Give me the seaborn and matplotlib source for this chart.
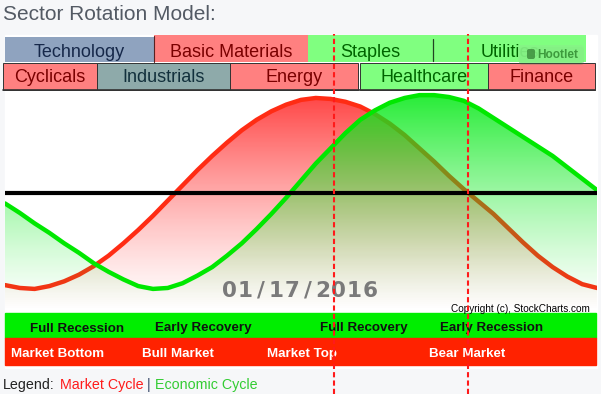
import numpy as np
import matplotlib.pyplot as plt
import seaborn as sns
from matplotlib.patches import Rectangle, FancyBboxPatch

sns.set_style("white")
plt.rcParams['font.family'] = ['Liberation Sans', 'DejaVu Sans']

# position through the cycle (0 = left edge of the panel, 100 = right edge)
cycle_pos = np.arange(0, 100.1, 2.5)
market_cycle = [-0.97, -1.0, -1.01, -0.98, -0.93, -0.86, -0.77, -0.66, -0.53, -0.39,
                -0.24, -0.08, 0.08, 0.24, 0.39, 0.53, 0.66, 0.77, 0.86, 0.93,
                0.98, 1.0, 0.99, 0.96, 0.91, 0.83, 0.73, 0.61, 0.47, 0.33,
                0.18, 0.04, -0.09, -0.22, -0.37, -0.52, -0.66, -0.78, -0.88, -0.96, -1.0]
economic_cycle = [-0.11, -0.21, -0.32, -0.42, -0.53, -0.63, -0.74, -0.83, -0.91, -0.98,
                  -1.01, -1.0, -0.95, -0.87, -0.78, -0.66, -0.53, -0.38, -0.22, -0.05,
                  0.13, 0.31, 0.47, 0.63, 0.77, 0.87, 0.95, 1.0, 1.03, 1.03,
                  1.01, 0.97, 0.89, 0.79, 0.69, 0.59, 0.49, 0.39, 0.27, 0.15, 0.03]
marker_pos = [55.6, 78.2]
date_label = "01/17/2016"

top_sectors = ["Technology", "Basic Materials", "Staples", "Utilities"]
bottom_sectors = ["Cyclicals", "Industrials", "Energy", "Healthcare", "Finance"]
economy_phases = ["Full Recession", "Early Recovery", "Full Recovery", "Early Recession"]
market_phases = ["Market Bottom", "Bull Market", "Market Top", "Bear Market"]

# layout in pixels
top_edges = [(5, 154), (154, 308), (308, 433), (433, 586)]
bottom_edges = [(3, 97), (97, 230), (230, 358), (360, 488), (488, 595)]
economy_x = [30, 155, 320, 440]
market_x = [11, 142, 267, 429]

RED_BOX, GREEN_BOX = '#ff8080', '#80ff80'
top_fill = ['#8fa3bf', RED_BOX, GREEN_BOX, GREEN_BOX]
top_text = ['#16284a', '#7a0000', '#006400', '#006400']
bottom_fill = [RED_BOX, '#8eaaaa', RED_BOX, GREEN_BOX, RED_BOX]
bottom_text = ['#7a0000', '#12303c', '#7a0000', '#006400', '#7a0000']

YBOT, YTOP = -1.253, 1.084

fig = plt.figure(figsize=(6.01, 3.94), dpi=100, facecolor='#f6f7f9')
ax = fig.add_axes([0, 0, 1, 1])
ax.set_xlim(0, 601)
ax.set_ylim(394, 0)
ax.axis('off')

ax.text(3, 20, "Sector Rotation Model:", fontsize=15, color='#535a64', va='baseline')
ax.add_patch(Rectangle((5, 35), 592, 333, color='white', zorder=0))

for (x0, x1), name, fc, tc in zip(top_edges, top_sectors, top_fill, top_text):
    y0 = 37 if name == "Technology" else 35
    ax.add_patch(Rectangle((x0, y0), x1 - x0, 62 - y0, facecolor=fc, edgecolor='none', zorder=1))
    ax.text((x0 + x1) / 2, 56.5, name, fontsize=13, color=tc, ha='center', va='baseline', zorder=2)
ax.plot([154, 154], [36, 62], color='#5a2020', lw=0.8, zorder=2)
ax.plot([433, 433], [39, 61], color='#224422', lw=0.9, zorder=2)

for (x0, x1), name, fc, tc in zip(bottom_edges, bottom_sectors, bottom_fill, bottom_text):
    ax.add_patch(Rectangle((x0, 62.5), x1 - x0, 27.5, facecolor=fc, edgecolor='#333333', lw=0.7, zorder=1))
    ax.text((x0 + x1) / 2, 82, name, fontsize=13, color=tc, ha='center', va='baseline', zorder=2)
ax.plot([3, 595], [90, 90], color='#333333', lw=1.2, zorder=2)

# Hootlet watermark
ax.add_patch(FancyBboxPatch((519, 47), 65, 18, boxstyle='round,pad=0,rounding_size=3',
                            fc='#4f7f4f', ec='none', alpha=0.25, zorder=3))
ax.add_patch(FancyBboxPatch((518, 45), 66, 18, boxstyle='round,pad=0,rounding_size=3',
                            fc='#86f486', ec='none', alpha=0.9, zorder=3))
ax.add_patch(FancyBboxPatch((527, 49), 8, 10, boxstyle='round,pad=0,rounding_size=2',
                            fc='#3a8a3a', ec='none', alpha=0.8, zorder=4))
ax.text(558, 55, "Hootlet", fontsize=8.6, fontweight='bold', color='#3d9a3d',
        ha='center', va='center', zorder=4)

# phase bands
ax.add_patch(Rectangle((5, 313), 591, 25, color='#00ee00', zorder=1))
ax.add_patch(Rectangle((5, 338), 591, 27, color='#ff2200', zorder=1))
for x, name in zip(economy_x, economy_phases):
    ax.text(x, 331.5, name, fontsize=9.6, fontweight='bold', color='#111111', va='baseline', zorder=2)
for x, name in zip(market_x, market_phases):
    ax.text(x, 357, name, fontsize=9.6, fontweight='bold', color='white', va='baseline', zorder=2)

# legend line
for x, txt, col in [(3, "Legend:", '#222222'), (60, "Market Cycle", '#ff1a1a'),
                    (147, "|", '#334466'), (155, "Economic Cycle", '#33cc33')]:
    ax.text(x, 389, txt, fontsize=10.3, color=col, va='baseline')

# cycle panel
cx = fig.add_axes([5 / 601, (394 - 312) / 394, 592 / 601, 222 / 394])
cx.patch.set_visible(False)


def gradient_fill(axis, x, y, rgb, amax, power, z):
    poly = axis.fill_between(x, y, YBOT, facecolor='none', edgecolor='none')
    t = np.linspace(0, 1, 256)
    grad = np.zeros((256, 1, 4))
    grad[:, 0, :3] = rgb
    grad[:, 0, 3] = amax * t ** power
    im = axis.imshow(grad, extent=[0, 100, YBOT, YTOP], origin='lower', aspect='auto',
                     interpolation='bilinear', zorder=z)
    im.set_clip_path(poly.get_paths()[0], axis.transData)


gradient_fill(cx, cycle_pos, market_cycle, (1.0, 0.16, 0.16), 0.9, 1.3, 1)
sns.lineplot(x=cycle_pos, y=market_cycle, ax=cx, color='#ff2c14', lw=3.2, zorder=2)
gradient_fill(cx, cycle_pos, economic_cycle, (0.05, 0.92, 0.12), 0.92, 1.3, 3)
sns.lineplot(x=cycle_pos, y=economic_cycle, ax=cx, color='#00e800', lw=3.2, zorder=4)
cx.axhline(0, color='black', lw=3, zorder=5)

for i, ch in enumerate(date_label):
    cx.text(229.5 + 15.6 * i, 297, ch, transform=ax.transData, fontsize=15.5,
            fontweight='bold', family='DejaVu Sans', color='#7a7a7a',
            ha='center', va='baseline', zorder=6)
cx.text(590, 311.5, "Copyright (c), StockCharts.com", transform=ax.transData,
        fontsize=7.2, color='black', ha='right', va='baseline', zorder=6)

for m in marker_pos:
    cx.axvline(m, ymin=-0.37, ymax=1.25, color='#ff1a1a', lw=1.5,
               ls=(0, (2.5, 1.5)), clip_on=False, zorder=7)

cx.set_xlim(0, 100)
cx.set_ylim(YBOT, YTOP)
cx.axis('off')

fig.savefig('out.png', dpi=100, facecolor=fig.get_facecolor())
